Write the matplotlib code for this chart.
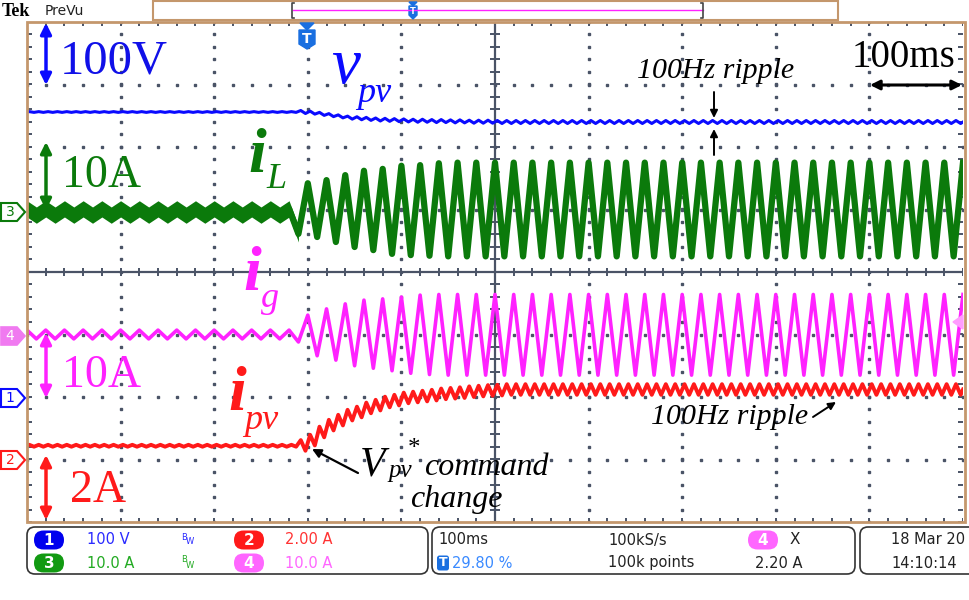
import matplotlib
matplotlib.use("Agg")
import matplotlib.pyplot as plt
import numpy as np
from matplotlib.patches import FancyBboxPatch, Polygon, Rectangle

# ---- scope settings ----
t_step = 290                          # ms, first 10 ms slot of the transient
ch1_scale, ch1_gnd = 100.0, -2.0      # v_pv  [V/div], ground level [div]
ch3_scale, ch3_gnd = 10.0, 1.0        # i_L   [A/div]
ch4_scale, ch4_gnd = 10.0, -1.0       # i_g   [A/div]
ch2_scale, ch2_gnd = 2.0, -3.0        # i_pv  [A/div]

# i_L, 50 Hz: peak / trough every 10 ms  [A]
il_pre = [0.1, -0.9]
il_band = 1.3
il_trans = [-3.9, 4.2, -4.4, 4.7, -5.2, 5.5, -6.0, 6.2, -6.5, 6.5, -7.1, 7.0, -7.3, 7.1, -7.4, 7.4]
il_steady = [7.5, -7.5]

# i_g, 50 Hz  [A]
ig_pre = [0.7, -0.7]
ig_trans = [-1.2, 3.1, -3.4, 4.1, -4.1, 4.9, -5.0, 5.5, -5.4, 5.7, -5.8, 6.0, -6.2, 6.3, -6.4, 6.4]
ig_steady = [6.4, -6.5]

# i_pv, 100 Hz ripple: mean per 10 ms  [A]
ipv_pre, ipv_pre_rip = 0.44, 0.03
ipv_trans = [0.45, 0.62, 0.88, 1.10, 1.26, 1.42, 1.52, 1.65, 1.74, 1.84, 1.90,
             1.97, 2.00, 2.03, 2.06, 2.10, 2.12, 2.14, 2.17, 2.19, 2.21, 2.22]
ipv_steady, ipv_rip = 2.24, 0.17

# v_pv, 100 Hz ripple: mean per 10 ms  [V]
vpv_pre, vpv_pre_rip = 456.0, 0.6
vpv_trans = [456, 455, 453, 451, 449, 447, 446, 445, 444, 443.5, 443, 442.5,
             442, 442, 441.5, 441.5, 441, 441, 440.5, 440.5, 440.5]
vpv_steady, vpv_rip = 440.0, 2.4


def fifty_hz(pre, trans, steady):
    t = np.arange(0, 1001, 10)
    y = np.empty(len(t))
    for k, tk in enumerate(t):
        j = k % 2
        if tk < t_step:
            y[k] = pre[j]
        elif tk < t_step + 10 * len(trans):
            y[k] = trans[(tk - t_step) // 10]
        else:
            y[k] = steady[j]
    return t, y


def hundred_hz(pre_m, pre_r, trans, steady_m, rip):
    t, y = [0.0], [pre_m]
    for k in range(100):
        t0 = 10 * k
        if t0 < t_step:
            m, r = pre_m, pre_r
        elif t0 < t_step + 10 * len(trans):
            m, r = trans[(t0 - t_step) // 10], rip
        else:
            m, r = steady_m, rip
        t += [t0 + 2.5, t0 + 7.5]
        y += [m + r, m - r]
    t.append(1000.0)
    y.append(steady_m)
    return np.array(t), np.array(y)


C_BLUE = "#0a0aff"
C_GREEN = "#0b7a0b"
C_MAG = "#ff22ff"
C_RED = "#ff1a1a"
C_GRID = "#4a5366"
C_TAN = "#c4976c"
SERIF = "Liberation Serif"

W, H = 970, 600
SX0, SX1, SY0, SY1 = 27, 963, 22, 522

fig = plt.figure(figsize=(W / 100, H / 100), dpi=100)
fig.patch.set_facecolor("white")

scr = fig.add_axes([SX0 / W, 1 - SY1 / H, (SX1 - SX0) / W, (SY1 - SY0) / H])
scr.set_xlim(0, 1000)
scr.set_ylim(-4, 4)
scr.axis("off")

# graticule: dotted lines, centre cross with ticks, edge ticks
for xk in range(100, 1000, 100):
    if xk != 500:
        yy = np.arange(-4, 4.01, 0.2)
        scr.plot(np.full(len(yy), xk), yy, ls="none", marker="s", ms=1.6, color=C_GRID)
for yk in range(-3, 4):
    if yk != 0:
        xx = np.arange(0, 1001, 20)
        scr.plot(xx, np.full(len(xx), yk), ls="none", marker="s", ms=1.6, color=C_GRID)
scr.axvline(500, color=C_GRID, lw=1.6)
scr.axhline(0, color=C_GRID, lw=1.6)
xt = np.arange(0, 1001, 20)
yt = np.arange(-4, 4.01, 0.2)
scr.vlines(xt, -0.07, 0.07, color=C_GRID, lw=1.4)
scr.hlines(yt, 495, 505, color=C_GRID, lw=1.4)
scr.vlines(xt, 3.93, 4, color=C_GRID, lw=1.4)
scr.vlines(xt, -4, -3.93, color=C_GRID, lw=1.4)
scr.hlines(yt, 0, 5, color=C_GRID, lw=1.4)
scr.hlines(yt, 995, 1000, color=C_GRID, lw=1.4)

# traces
t, y = hundred_hz(vpv_pre, vpv_pre_rip, vpv_trans, vpv_steady, vpv_rip)
scr.plot(t, y / ch1_scale + ch1_gnd, color=C_BLUE, lw=2.2, solid_joinstyle="round")

t, y = fifty_hz(il_pre, il_trans, il_steady)
pre = t <= t_step
scr.fill_between(t[pre], (y[pre] - il_band) / ch3_scale + ch3_gnd,
                 (y[pre] + il_band) / ch3_scale + ch3_gnd, color=C_GREEN, lw=0)
scr.plot(t, y / ch3_scale + ch3_gnd, color=C_GREEN, lw=4.5, solid_joinstyle="round")

t, y = fifty_hz(ig_pre, ig_trans, ig_steady)
scr.plot(t, y / ch4_scale + ch4_gnd, color=C_MAG, lw=2.6, solid_joinstyle="round")

t, y = hundred_hz(ipv_pre, ipv_pre_rip, ipv_trans, ipv_steady, ipv_rip)
scr.plot(t, y / ch2_scale + ch2_gnd, color=C_RED, lw=2.8, solid_joinstyle="round")

# ---- overlay in pixel coordinates ----
ov = fig.add_axes([0, 0, 1, 1])
ov.set_xlim(0, W)
ov.set_ylim(H, 0)
ov.axis("off")

ov.add_patch(Rectangle((SX0, SY0), SX1 - SX0 + 2, SY1 - SY0, fill=False, ec=C_TAN, lw=2))

# top bar
ov.text(2, 11, "Tek", fontsize=13, fontweight="bold", family=SERIF, va="center")
ov.text(45, 11, "PreVu", fontsize=10, family="DejaVu Sans", va="center", color="#222222")
ov.add_patch(Rectangle((153, 1), 685, 19, fill=True, fc="white", ec=C_TAN, lw=1.5))
ov.plot([293, 703], [10, 10], color=C_MAG, lw=1)
ov.plot([294, 292, 292, 294], [3, 3, 18, 18], color="#444444", lw=1.2)
ov.plot([701, 703, 703, 701], [3, 3, 18, 18], color="#444444", lw=1.2)
ov.add_patch(Polygon([[409, 2], [417, 2], [413, 6]], color="#1a6fe0"))
ov.add_patch(Polygon([[409, 6], [417, 6], [417, 15], [413, 19], [409, 15]], color="#1a6fe0"))
ov.text(413, 11.5, "T", color="white", fontsize=6, fontweight="bold", ha="center", va="center")

# trigger marker on screen
ov.add_patch(Polygon([[300, 23], [314, 23], [307, 30]], color="#1a6fe0"))
ov.add_patch(Polygon([[299, 30], [315, 30], [315, 44], [307, 49], [299, 44]], color="#1a6fe0"))
ov.text(307, 39, "T", color="white", fontsize=10, fontweight="bold", ha="center", va="center")

# channel ground markers
def gnd_marker(yc, label, col, filled):
    pts = [[1, yc - 9], [17, yc - 9], [25, yc], [17, yc + 9], [1, yc + 9]]
    if filled:
        ov.add_patch(Polygon(pts, closed=True, fc=col, ec=col, lw=1.2))
        tc = "white"
    else:
        ov.add_patch(Polygon(pts, closed=True, fc="white", ec=col, lw=1.5))
        tc = col
    ov.text(10, yc + 0.5, label, color=tc, fontsize=10, ha="center", va="center",
            family="DejaVu Sans")


gnd_marker(212, "3", C_GREEN, False)
gnd_marker(336, "4", "#f07af0", True)
gnd_marker(398, "1", C_BLUE, False)
gnd_marker(460, "2", C_RED, False)
ov.add_patch(Polygon([[953, 322], [963, 315], [963, 329]], color="#ff9cff"))

# scale arrows and labels
arrow = dict(arrowstyle="<|-|>", lw=2.5, mutation_scale=16)
for yt0, yt1, col in [(23, 85, C_BLUE), (142, 210, C_GREEN),
                      (333, 398, C_MAG), (455, 520, C_RED)]:
    ov.annotate("", xy=(46, yt0), xytext=(46, yt1),
                arrowprops=dict(arrow, color=col, shrinkA=0, shrinkB=0))
ov.text(60, 74, "100V", color="#1010e8", fontsize=35, family=SERIF)
ov.text(62, 187, "10A", color=C_GREEN, fontsize=33, family=SERIF)
ov.text(62, 387, "10A", color=C_MAG, fontsize=33, family=SERIF)
ov.text(70, 502, "2A", color=C_RED, fontsize=33, family=SERIF)

# signal names
ov.text(331, 83, "v", color=C_BLUE, fontsize=47, family=SERIF, style="italic")
ov.text(357, 102, "pv", color=C_BLUE, fontsize=26, family=SERIF, style="italic")
ov.text(248, 172, "i", color=C_GREEN, fontsize=46, family=SERIF, style="italic", weight="bold")
ov.text(266, 188, "L", color=C_GREEN, fontsize=26, family=SERIF, style="italic")
ov.text(243, 290, "i", color=C_MAG, fontsize=46, family=SERIF, style="italic", weight="bold")
ov.text(261, 307, "g", color=C_MAG, fontsize=26, family=SERIF, style="italic")
ov.text(228, 410, "i", color=C_RED, fontsize=46, family=SERIF, style="italic", weight="bold")
ov.text(244, 429, "pv", color=C_RED, fontsize=26, family=SERIF, style="italic")

# annotations
ov.text(852, 67, "100ms", fontsize=28, family=SERIF)
ov.annotate("", xy=(870, 85), xytext=(962, 85),
            arrowprops=dict(arrowstyle="<|-|>", lw=2.2, color="black",
                            mutation_scale=14, shrinkA=0, shrinkB=0))
ov.text(637, 78, "100Hz ripple", fontsize=21.5, family=SERIF, style="italic")
ov.annotate("", xy=(714, 118), xytext=(714, 92),
            arrowprops=dict(arrowstyle="-|>", lw=1.4, color="black", mutation_scale=11,
                            shrinkA=0, shrinkB=0))
ov.annotate("", xy=(714, 129), xytext=(714, 155),
            arrowprops=dict(arrowstyle="-|>", lw=1.4, color="black", mutation_scale=11,
                            shrinkA=0, shrinkB=0))
ov.text(651, 424, "100Hz ripple", fontsize=21.5, family=SERIF, style="italic")
ov.annotate("", xy=(836, 402), xytext=(813, 417),
            arrowprops=dict(arrowstyle="-|>", lw=1.4, color="black", mutation_scale=11,
                            shrinkA=0, shrinkB=0))

ov.text(360, 475, "V", fontsize=30, family=SERIF, style="italic")
ov.text(388, 477, "pv", fontsize=18, family=SERIF, style="italic")
ov.text(408, 455, "*", fontsize=18, family=SERIF)
ov.text(424, 475, "command", fontsize=23, family=SERIF, style="italic")
ov.text(410, 507, "change", fontsize=23, family=SERIF, style="italic")
ov.annotate("", xy=(312, 449), xytext=(358, 473),
            arrowprops=dict(arrowstyle="-|>", lw=1.6, color="black", mutation_scale=13,
                            shrinkA=0, shrinkB=0))

# ---- status bar ----
SANS = "DejaVu Sans"
for x0, w in [(27, 401), (432, 423), (860, 130)]:
    ov.add_patch(FancyBboxPatch((x0, 527), w, 47, boxstyle="round,pad=0,rounding_size=8",
                                fc="white", ec="#333333", lw=1.2))


def badge(xc, yc, label, col):
    ov.add_patch(FancyBboxPatch((xc - 15, yc - 9.5), 30, 19,
                                boxstyle="round,pad=0,rounding_size=9.5", fc=col, ec="none"))
    ov.text(xc, yc + 0.5, label, color="white", fontsize=11, fontweight="bold",
            ha="center", va="center", family=SANS)


row1, row2 = 540, 563
badge(49, row1, "1", "#0000ee")
badge(49, row2, "3", "#129a12")
badge(249, row1, "2", "#ff1a1a")
badge(249, row2, "4", "#ff66ff")
ov.text(87, row1, "100 V", color="#2a2aff", fontsize=10.5, va="center", family=SANS)
ov.text(87, row2, "10.0 A", color="#22aa22", fontsize=10.5, va="center", family=SANS)
ov.text(285, row1, "2.00 A", color="#ff3333", fontsize=10.5, va="center", family=SANS)
ov.text(285, row2, "10.0 A", color="#ff66ff", fontsize=10.5, va="center", family=SANS)
for yc, col in [(row1, "#2a2aff"), (row2, "#22aa22")]:
    ov.text(181, yc - 3, "B", color=col, fontsize=6, va="center", family=SANS)
    ov.text(186, yc + 2, "W", color=col, fontsize=6, va="center", family=SANS)

ov.text(438, row1, "100ms", color="#222222", fontsize=10.5, va="center", family=SANS)
ov.add_patch(FancyBboxPatch((437, row2 - 7.5), 12, 15, boxstyle="round,pad=0,rounding_size=2.5",
                            fc="#1a6fe0", ec="none"))
ov.text(443, row2, "T", color="white", fontsize=9, fontweight="bold", ha="center",
        va="center", family=SANS)
ov.text(452, row2, "29.80 %", color="#3a8aff", fontsize=10.5, va="center", family=SANS)
ov.text(608, row1, "100kS/s", color="#222222", fontsize=10.5, va="center", family=SANS)
ov.text(608, row2, "100k points", color="#222222", fontsize=10.5, va="center", family=SANS)
badge(763, row1, "4", "#ff66ff")
ov.text(790, row1, "X", color="#222222", fontsize=11, va="center", family=SANS)
ov.text(755, row2, "2.20 A", color="#222222", fontsize=10.5, va="center", family=SANS)
ov.text(891, row1, "18 Mar 20", color="#222222", fontsize=10.5, va="center", family=SANS)
ov.text(891, row2, "14:10:14", color="#222222", fontsize=10.5, va="center", family=SANS)

fig.savefig("out.png", dpi=100, facecolor="white")
